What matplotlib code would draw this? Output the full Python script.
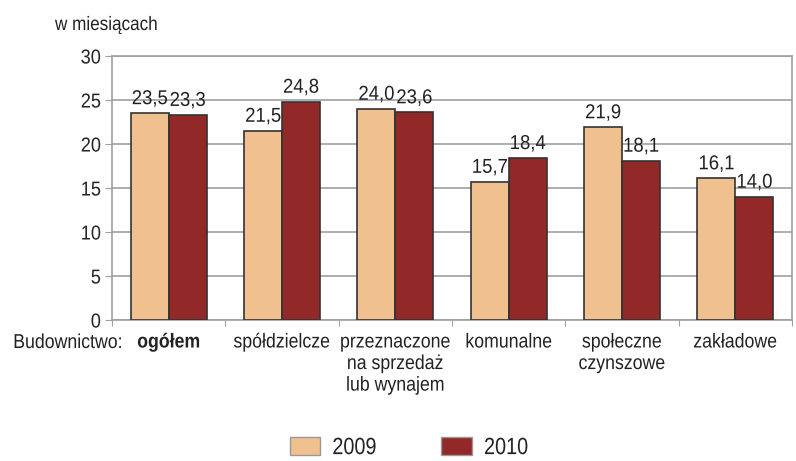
import matplotlib
matplotlib.use("Agg")
import matplotlib.pyplot as plt
import numpy as np
from matplotlib.patches import Patch
from matplotlib.patheffects import AbstractPathEffect
from matplotlib.transforms import Affine2D

plt.rcParams['font.family'] = ['Liberation Sans', 'DejaVu Sans']

categories = ['ogółem', 'spółdzielcze', 'przeznaczone\nna sprzedaż\nlub wynajem',
              'komunalne', 'społeczne\nczynszowe', 'zakładowe']
series_2009 = [23.5, 21.5, 24.0, 15.7, 21.9, 16.1]
series_2010 = [23.3, 24.8, 23.6, 18.4, 18.1, 14.0]
yticks = [0, 5, 10, 15, 20, 25, 30]
legend_labels = ['2009', '2010']


class Condense(AbstractPathEffect):
    """Horizontally condense text glyphs around an anchor."""
    def __init__(self, sx=0.86, anchor='center'):
        super().__init__()
        self.sx = sx
        self.anchor = anchor

    def draw_path(self, renderer, gc, tpath, affine, rgbFace=None):
        ext = tpath.get_extents()
        if self.anchor == 'center':
            cx = (ext.x0 + ext.x1) / 2
        elif self.anchor == 'right':
            cx = ext.x1
        else:
            cx = ext.x0
        t = Affine2D().translate(-cx, 0).scale(self.sx, 1).translate(cx, 0) + affine
        renderer.draw_path(gc, tpath, t, rgbFace)


def cond(anchor='center', sx=0.86):
    return [Condense(sx, anchor)]


c09 = '#F0C08E'
c10 = '#922828'
tc = '#222222'

fig = plt.figure(figsize=(7.96, 4.61), dpi=100)
ax = fig.add_axes([112/796, 1-320/461, (792-112)/796, (320-56)/461])

x = np.arange(len(categories))
w = 0.335
b1 = ax.bar(x - w/2, series_2009, w, color=c09, edgecolor='#333333', linewidth=1.2, zorder=3)
b2 = ax.bar(x + w/2, series_2010, w, color=c10, edgecolor='#333333', linewidth=1.2, zorder=3)

for rects, vals in ((b1, series_2009), (b2, series_2010)):
    for r, v in zip(rects, vals):
        ax.annotate(f'{v:.1f}'.replace('.', ','), (r.get_x() + r.get_width()/2, v),
                    xytext=(0, 6.5), textcoords='offset points',
                    ha='center', va='baseline', fontsize=14.5, color=tc,
                    path_effects=cond('center', 0.92))

ax.set_xlim(-0.5, len(categories) - 0.5)
ax.set_ylim(0, 30)
ax.set_yticks(yticks)
ax.set_yticklabels([str(t) for t in yticks], fontsize=14.5, color=tc)
for lbl in ax.get_yticklabels():
    lbl.set_path_effects(cond('right', 0.9))
ax.yaxis.grid(True, color='#a0a0a0', linewidth=1.2, zorder=0)
ax.set_axisbelow(True)
for s in ax.spines.values():
    s.set_color('#a0a0a0')
    s.set_linewidth(1.2)
ax.tick_params(axis='y', length=5, color='#a0a0a0', pad=3)

ax.set_xticks(np.arange(len(categories) + 1) - 0.5, minor=False)
ax.set_xticklabels([])
ax.tick_params(axis='x', length=4, color='#a0a0a0', direction='out')
ax.set_xticks(x, minor=True)
ax.set_xticklabels(categories, minor=True, fontsize=14.5, color=tc, linespacing=1.17)
ax.tick_params(axis='x', which='minor', length=0, pad=9)
for lbl in ax.get_xticklabels(minor=True):
    lbl.set_path_effects(cond('center', 0.88))
    if lbl.get_text() == 'ogółem':
        lbl.set_fontweight('bold')

fig.text(13/796, 1-348/461, 'Budownictwo:', fontsize=14.5, color=tc, va='baseline', ha='left',
         path_effects=cond('left', 0.88))
fig.text(55/796, 1-30/461, 'w miesiącach', fontsize=14, color=tc, va='baseline', ha='left',
         path_effects=cond('left', 0.88))

handles = [Patch(facecolor=c09, edgecolor='#999999', label=legend_labels[0]),
           Patch(facecolor=c10, edgecolor='#999999', label=legend_labels[1])]
leg = fig.legend(handles=handles, loc='center', bbox_to_anchor=(413/796, 1-448/461), ncol=2,
                 frameon=False, fontsize=17, handlelength=1.3, handleheight=0.8,
                 columnspacing=2.4, handletextpad=0.5, borderpad=0)
for t in leg.get_texts():
    t.set_path_effects(cond('left', 0.84))
    t.set_color(tc)

fig.savefig('out.png', dpi=100)
